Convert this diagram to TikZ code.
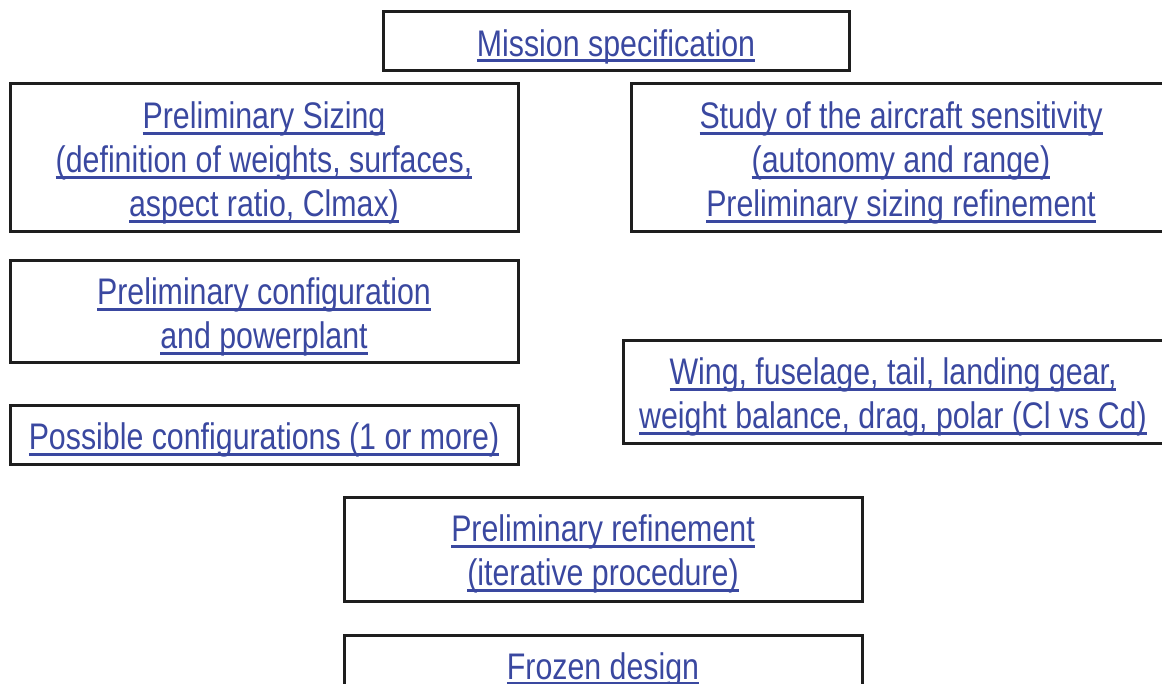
\documentclass[tikz,border=0pt]{standalone}
\usepackage{fontspec}
\setmainfont[FakeStretch=0.82]{Liberation Sans}
\definecolor{linkblue}{RGB}{58,72,160}
\definecolor{boxline}{RGB}{30,30,30}
\newsavebox\ulkbox
\newcommand\ulk[1]{\sbox\ulkbox{#1}\rlap{\raisebox{0pt}[0pt][0pt]{\rule[-6.4pt]{\wd\ulkbox}{3.1pt}}}\usebox\ulkbox}
\tikzset{
  box/.style={draw=boxline, line width=3pt, inner sep=0pt},
  txt/.style={inner sep=0pt, align=center, text=linkblue,
    font=\fontsize{37}{44}\selectfont, yshift=-5pt},
}
\begin{document}
\begin{tikzpicture}[x=1pt,y=-1pt]
\useasboundingbox (0,0) rectangle (1162,684);
\node[box, minimum width=466pt, minimum height=59pt] (mission) at (616,41.5) {};
\node[txt] (missiont) at (mission.center) {\ulk{Mission specification}};
\node[box, minimum width=508pt, minimum height=148pt] (sizing) at (264,158) {};
\node[txt] (sizingt) at (sizing.center) {\ulk{Preliminary Sizing}\\\ulk{(definition of weights, surfaces,}\\\ulk{aspect ratio, Clmax)}};
\node[box, minimum width=540pt, minimum height=148pt] (study) at (901,158) {};
\node[txt] (studyt) at (study.center) {\ulk{Study of the aircraft sensitivity}\\\ulk{(autonomy and range)}\\\ulk{Preliminary sizing refinement}};
\node[box, minimum width=508pt, minimum height=102pt] (config) at (264,312) {};
\node[txt] (configt) at (config.center) {\ulk{Preliminary configuration}\\\ulk{and powerplant}};
\node[box, minimum width=508pt, minimum height=58pt] (possible) at (264,435) {};
\node[txt] (possiblet) at (possible.center) {\ulk{Possible configurations (1 or more)}};
\node[box, minimum width=540pt, minimum height=102pt] (wing) at (893,392) {};
\node[txt] (wingt) at (wing.center) {\ulk{Wing, fuselage, tail, landing gear,}\\\ulk{weight balance, drag, polar (Cl vs Cd)}};
\node[box, minimum width=518pt, minimum height=104pt] (refine) at (603,549) {};
\node[txt] (refinet) at (refine.center) {\ulk{Preliminary refinement}\\\ulk{(iterative procedure)}};
\node[box, minimum width=518pt, minimum height=59pt] (frozen) at (603,664.5) {};
\node[txt] (frozent) at (frozen.center) {\ulk{Frozen design}};
\end{tikzpicture}
\end{document}
